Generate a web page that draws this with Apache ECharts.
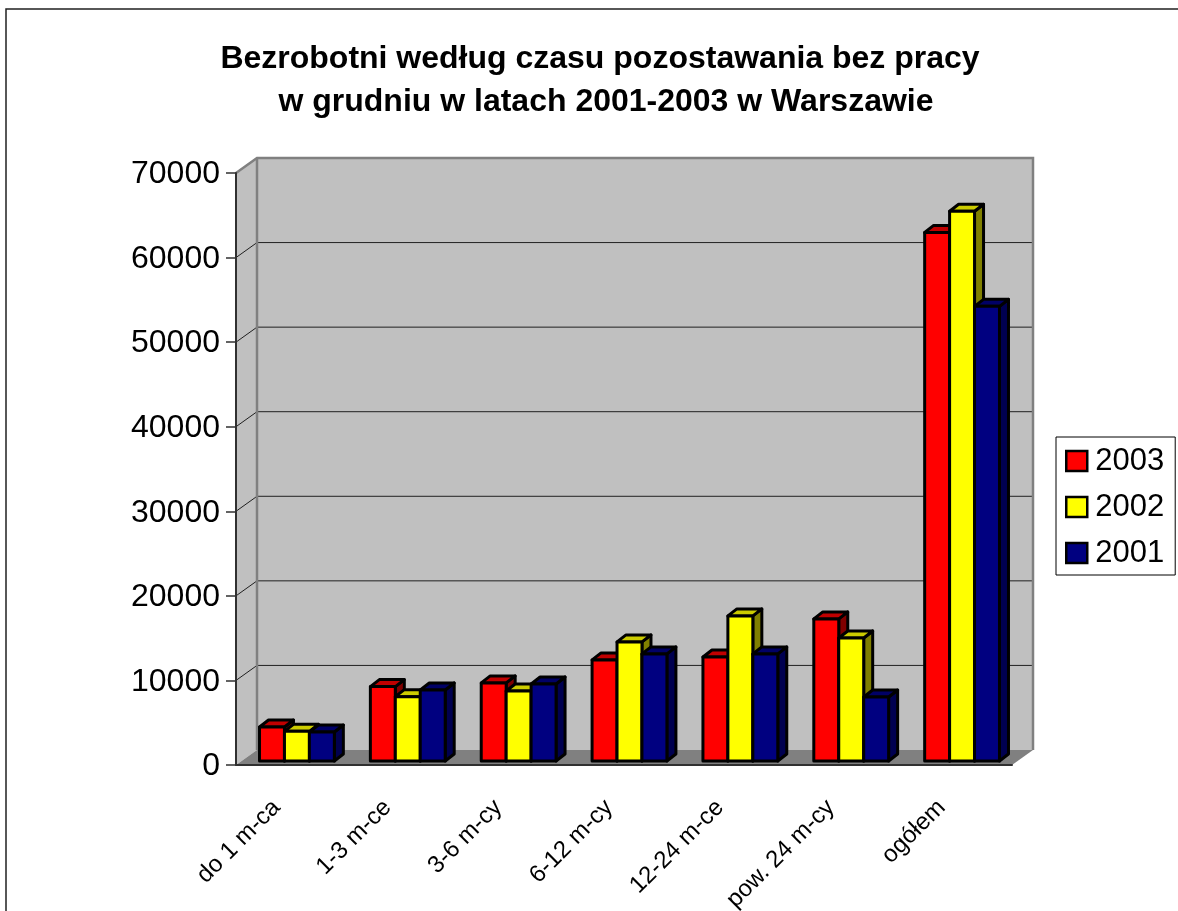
<!DOCTYPE html>
<html>
<head>
<meta charset="utf-8">
<title>Bezrobotni</title>
<script src="https://cdn.jsdelivr.net/npm/echarts@6/dist/echarts.min.js"></script>
<style>
  html, body { margin: 0; padding: 0; background: #fff; overflow: hidden; }
  #main { width: 1178px; height: 911px; }
</style>
</head>
<body>
<div id="main"></div>
<script>
const titleLines = ['Bezrobotni według czasu pozostawania bez pracy', 'w grudniu w latach 2001-2003 w Warszawie'];
const categories = ['do 1 m-ca', '1-3 m-ce', '3-6 m-cy', '6-12 m-cy', '12-24 m-ce', 'pow. 24 m-cy', 'ogółem'];
const yTicks = [0, 10000, 20000, 30000, 40000, 50000, 60000, 70000];
const values2003 = [4020, 8800, 9230, 11950, 12300, 16800, 62500];
const values2002 = [3510, 7610, 8280, 14080, 17160, 14550, 65000];
const values2001 = [3430, 8400, 9110, 12660, 12660, 7570, 53760];

const FONT = '"Liberation Sans", Arial, sans-serif';
// Excel style fake 3D: how far the back wall and the bars sit from the front plane
const WALL_DX = 21, WALL_DY = -15;
const BAR_DX = 5.5, BAR_DY = -4;
const SIDE_DX = 9, SIDE_DY = -7;

const myChart = echarts.init(document.getElementById('main'));

function renderWalls(params, api) {
  const g = params.coordSys;
  const v = api.value(1);
  const y = api.coord([0, v])[1];
  const right = g.x + g.width;
  const bottom = g.y + g.height;
  const children = [];

  if (v === 0) {
    children.push({
      type: 'rect',
      shape: { x: g.x + WALL_DX, y: g.y + WALL_DY, width: g.width, height: g.height },
      style: { fill: '#C0C0C0' }
    }, {
      type: 'polygon',
      shape: { points: [[g.x, g.y], [g.x + WALL_DX, g.y + WALL_DY], [g.x + WALL_DX, bottom + WALL_DY], [g.x, bottom]] },
      style: { fill: '#C0C0C0' }
    }, {
      type: 'polygon',
      shape: { points: [[g.x, bottom], [g.x + WALL_DX, bottom + WALL_DY], [right + WALL_DX, bottom + WALL_DY], [right, bottom]] },
      style: { fill: '#808080' }
    });
  } else if (v === yTicks[yTicks.length - 1]) {
    // gray edges go last so they sit over the gridlines
    children.push({
      type: 'polyline',
      shape: { points: [[g.x, y], [g.x + WALL_DX, y + WALL_DY], [right + WALL_DX, y + WALL_DY], [right + WALL_DX, bottom + WALL_DY]] },
      style: { fill: 'none', stroke: '#808080', lineWidth: 2.5 }
    }, {
      type: 'line',
      shape: { x1: g.x + WALL_DX, y1: y + WALL_DY, x2: g.x + WALL_DX, y2: bottom + WALL_DY },
      style: { stroke: '#808080', lineWidth: 2.5 }
    });
  } else {
    children.push({
      type: 'polyline',
      shape: { points: [[g.x, y], [g.x + WALL_DX, y + WALL_DY], [right + WALL_DX, y + WALL_DY]] },
      style: { fill: 'none', stroke: '#202020', lineWidth: 1 }
    });
  }
  return { type: 'group', children: children };
}

function barSeries(name, values, slot, front, top, side) {
  return {
    name: name,
    type: 'custom',
    clip: false,
    itemStyle: { color: front },
    data: values.map((v, i) => [i, v]),
    renderItem: function (params, api) {
      const p = api.coord([api.value(0), api.value(1)]);
      const base = api.coord([api.value(0), 0]);
      const band = api.size([1, 0])[0];
      const w = band * 0.225;
      const x0 = p[0] + BAR_DX + (slot - 2.5) * w;
      const x1 = x0 + w;
      const yTop = p[1] + BAR_DY;
      const yBase = base[1] + BAR_DY;
      const line = { stroke: '#000', lineWidth: 3, lineJoin: 'round' };
      return {
        type: 'group',
        children: [
          {
            type: 'polygon',
            shape: { points: [[x1, yTop], [x1 + SIDE_DX, yTop + SIDE_DY], [x1 + SIDE_DX, yBase + SIDE_DY], [x1, yBase]] },
            style: { fill: side, ...line }
          },
          {
            type: 'polygon',
            shape: { points: [[x0, yTop], [x0 + SIDE_DX, yTop + SIDE_DY], [x1 + SIDE_DX, yTop + SIDE_DY], [x1, yTop]] },
            style: { fill: top, ...line }
          },
          {
            type: 'rect',
            shape: { x: x0, y: yTop, width: w, height: yBase - yTop },
            style: { fill: front, ...line }
          }
        ]
      };
    }
  };
}

const titleStyle = { fontFamily: FONT, fontSize: 32, fontWeight: 'bold', color: '#000' };

const option = {
  animation: false,
  backgroundColor: '#fff',
  textStyle: { fontFamily: FONT },
  // two titles, the second line sits a little right of the first one in the original
  title: [
    { text: titleLines[0], left: 595, top: 38, textAlign: 'center', textStyle: titleStyle },
    { text: titleLines[1], left: 601, top: 81, textAlign: 'center', textStyle: titleStyle }
  ],
  legend: {
    data: ['2003', '2002', '2001'],
    orient: 'vertical',
    left: 1056,
    top: 437,
    padding: [8, 11, 6, 9],
    icon: 'rect',
    itemWidth: 21,
    itemHeight: 20,
    itemGap: 14,
    backgroundColor: '#fff',
    borderColor: '#000',
    borderWidth: 1,
    itemStyle: { borderColor: '#000', borderWidth: 2.5 },
    textStyle: { fontFamily: FONT, fontSize: 31, color: '#000', lineHeight: 26, padding: [6, 0, 0, 3] }
  },
  grid: { left: 236, top: 173, width: 776, height: 592, outerBoundsMode: 'none' },
  xAxis: {
    type: 'category',
    data: categories,
    z: 10,
    axisLine: { lineStyle: { color: '#303030', width: 2 } },
    axisTick: { alignWithLabel: false, length: 10, lineStyle: { color: '#303030', width: 1.5 } },
    axisLabel: { interval: 0, rotate: 45, margin: 24, padding: [0, 21, 0, 0], fontFamily: FONT, fontSize: 24, color: '#000' }
  },
  yAxis: {
    type: 'value',
    min: 0,
    max: 70000,
    interval: 10000,
    z: 10,
    splitLine: { show: false },
    axisLine: { show: true, lineStyle: { color: '#303030', width: 2 } },
    axisTick: { show: true, length: 10, lineStyle: { color: '#303030', width: 1.5 } },
    axisLabel: {
      margin: 16,
      verticalAlign: 'top',
      lineHeight: 3,
      fontFamily: FONT,
      fontSize: 32,
      color: '#000',
      formatter: value => String(value)
    }
  },
  graphic: [
    {
      type: 'rect',
      silent: true,
      shape: { x: 6, y: 9, width: 1400, height: 1400 },
      style: { fill: 'none', stroke: '#202020', lineWidth: 1.5 }
    }
  ],
  series: [
    {
      name: 'walls',
      type: 'custom',
      clip: false,
      silent: true,
      data: yTicks.map(v => [0, v]),
      renderItem: renderWalls
    },
    barSeries('2003', values2003, 1, '#FF0000', '#C00000', '#800000'),
    barSeries('2002', values2002, 2, '#FFFF00', '#CCCC00', '#808000'),
    barSeries('2001', values2001, 3, '#000080', '#000066', '#000050')
  ]
};

option && myChart.setOption(option);
</script>
</body>
</html>
